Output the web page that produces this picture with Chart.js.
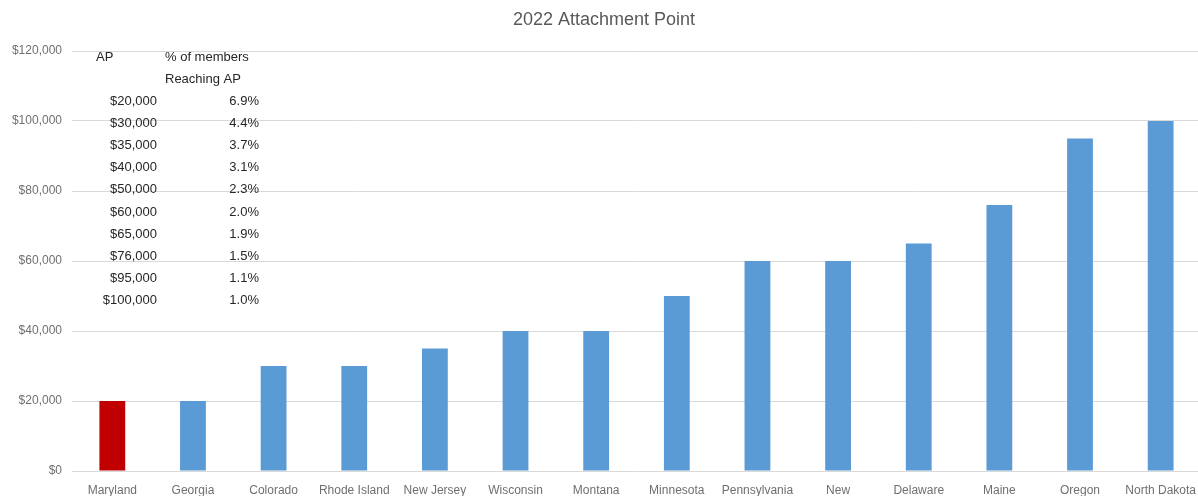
<!DOCTYPE html>
<html>
<head>
<meta charset="utf-8">
<script src="https://cdn.jsdelivr.net/npm/chart.js@4.4.0/dist/chart.umd.min.js"></script>
<style>
  html, body { margin: 0; padding: 0; background: #fff; overflow: hidden; }
  #wrap { width: 1208px; height: 496px; }
</style>
</head>
<body>
<div id="wrap"><canvas id="chartAP"></canvas></div>
<script>
const states = ['Maryland', 'Georgia', 'Colorado', 'Rhode Island', 'New Jersey', 'Wisconsin', 'Montana',
    'Minnesota', 'Pennsylvania', 'New', 'Delaware', 'Maine', 'Oregon', 'North Dakota'];
const attachPoints = [20000, 20000, 30000, 30000, 35000, 40000, 40000, 50000, 60000, 60000, 65000, 76000, 95000, 100000];
const yTicks = [0, 20000, 40000, 60000, 80000, 100000, 120000];

// small table drawn in the top-left corner
const tableAP = ['$20,000', '$30,000', '$35,000', '$40,000', '$50,000', '$60,000', '$65,000', '$76,000', '$95,000', '$100,000'];
const tablePct = ['6.9%', '4.4%', '3.7%', '3.1%', '2.3%', '2.0%', '1.9%', '1.5%', '1.1%', '1.0%'];

const fmt = v => '$' + v.toLocaleString('en-US');

const tablePlugin = {
    id: 'apTable',
    afterDraw(chart) {
        const c = chart.ctx;
        c.save();
        c.fillStyle = '#262626';
        c.font = '13px "Liberation Sans", Arial, sans-serif';
        c.textBaseline = 'middle';
        c.textAlign = 'left';
        c.fillText('AP', 96, 57);
        c.fillText('% of members', 165, 57);
        c.fillText('Reaching AP', 165, 79);
        const rowH = 22.2;
        tableAP.forEach((t, i) => {
            const y = 101 + i * rowH;
            c.textAlign = 'right';
            c.fillText(t, 157, y);
            c.fillText(tablePct[i], 259, y);
        });
        c.restore();
    }
};

const ctxAP = document.getElementById('chartAP').getContext('2d');
new Chart(ctxAP, {
    type: 'bar',
    data: {
        labels: states,
        datasets: [{
            label: 'Attachment Point',
            data: attachPoints,
            backgroundColor: states.map((s, i) => i === 0 ? '#c00000' : '#5b9bd5'),
            categoryPercentage: 0.8,
            barPercentage: 0.4
        }]
    },
    options: {
        responsive: true,
        maintainAspectRatio: false,
        animation: false,
        layout: { padding: 0 },
        scales: {
            x: {
                grid: { display: false, drawTicks: false },
                border: { display: false },
                ticks: {
                    color: '#6f6f6f',
                    font: { family: '"Liberation Sans", Arial, sans-serif', size: 12 },
                    padding: 12,
                    maxRotation: 0,
                    autoSkip: false
                },
                afterFit(s) { s.height = 25; }
            },
            y: {
                min: 0,
                max: 120000,
                afterBuildTicks(s) { s.ticks = yTicks.map(v => ({ value: v })); },
                grid: { color: '#d9d9d9', drawTicks: false },
                border: { display: false },
                ticks: {
                    color: '#6f6f6f',
                    font: { family: '"Liberation Sans", Arial, sans-serif', size: 12 },
                    padding: 10,
                    callback: v => fmt(v)
                },
                afterFit(s) { s.width = 72; }
            }
        },
        plugins: {
            legend: { display: false },
            tooltip: { enabled: false },
            title: {
                display: true,
                text: '2022 Attachment Point',
                color: '#595959',
                font: { family: '"Liberation Sans", Arial, sans-serif', size: 18, weight: 'normal' },
                padding: { top: 9, bottom: 20.4 }
            }
        }
    },
    plugins: [tablePlugin]
});
</script>
</body>
</html>
